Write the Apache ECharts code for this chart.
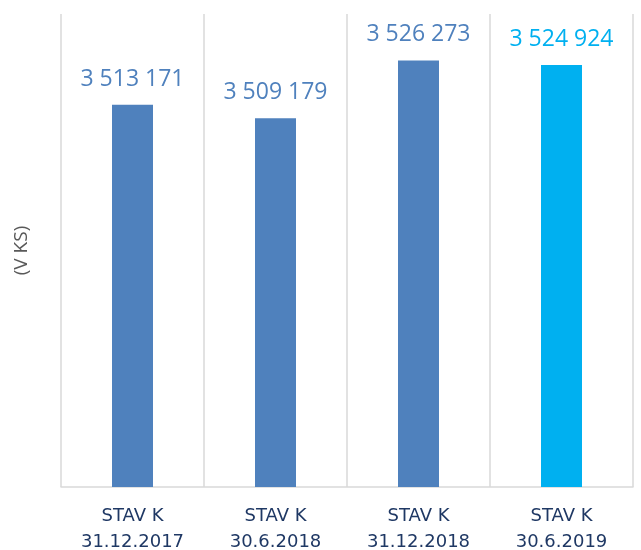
<!DOCTYPE html>
<html>
<head>
<meta charset="utf-8">
<script src="https://cdn.jsdelivr.net/npm/echarts@6/dist/echarts.min.js"></script>
<style>html,body{margin:0;padding:0;background:#fff;}#c{width:641px;height:550px;}</style>
</head>
<body>
<div id="c"></div>
<script>
const categories = ['STAV K\n31.12.2017', 'STAV K\n30.6.2018', 'STAV K\n31.12.2018', 'STAV K\n30.6.2019'];
const values = [3513171, 3509179, 3526273, 3524924];
const barColors = ['#4F81BD', '#4F81BD', '#4F81BD', '#00B0F0'];
const labelColors = ['#4F81BD', '#4F81BD', '#4F81BD', '#00B0F0'];

function fmt(v) {
  return String(v).replace(/\B(?=(\d{3})+(?!\d))/g, ' ');
}

const chart = echarts.init(document.getElementById('c'), null, {renderer: 'canvas'});
chart.setOption({
  animation: false,
  grid: {left: 61, right: 8, top: 14, bottom: 63, containLabel: false, outerBoundsMode: 'none'},
  xAxis: {
    type: 'category',
    data: categories,
    boundaryGap: true,
    axisLine: {show: true, lineStyle: {color: '#D9D9D9', width: 1.5}},
    axisTick: {show: false},
    splitLine: {show: true, interval: 0, lineStyle: {color: '#D9D9D9', width: 1.5}},
    axisLabel: {
      interval: 0,
      margin: 16,
      color: '#1F3864',
      fontFamily: 'DejaVu Sans',
      fontSize: 18,
      lineHeight: 26
    }
  },
  yAxis: {
    type: 'value',
    min: 3400000,
    max: 3540000,
    name: '(V KS)',
    nameLocation: 'middle',
    nameGap: 30,
    nameTextStyle: {color: '#595959', fontFamily: 'Open Sans', fontSize: 19},
    axisLine: {show: false},
    axisTick: {show: false},
    axisLabel: {show: false},
    splitLine: {show: false}
  },
  series: [{
    type: 'bar',
    barWidth: 41,
    data: values.map((v, i) => ({
      value: v,
      itemStyle: {color: barColors[i]},
      label: {color: labelColors[i]}
    })),
    label: {
      show: true,
      position: 'top',
      distance: 14,
      fontFamily: 'Open Sans',
      fontSize: 23,
      formatter: p => fmt(p.value)
    }
  }]
});
</script>
</body>
</html>
